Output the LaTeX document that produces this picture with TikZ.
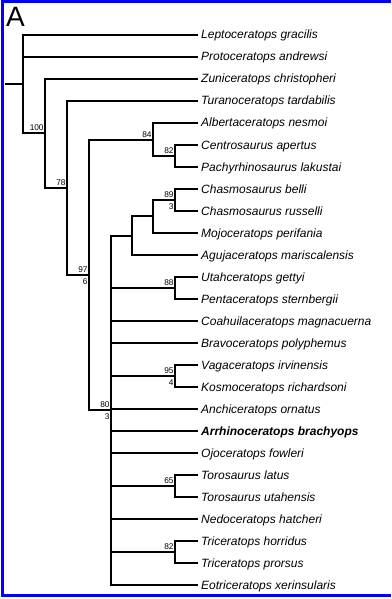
\documentclass[tikz,border=0pt]{standalone}
\usepackage{fontspec}
\setmainfont{Liberation Sans}
\usepackage{tikz}
\definecolor{frameblue}{RGB}{0,0,255}

\begin{document}
\begin{tikzpicture}[
        x=1pt, y=-1pt,
        taxon/.style = {anchor=west, inner xsep=3pt, inner ysep=0pt, text height=10pt, text depth=2pt, font=\fontsize{12}{12}\selectfont\itshape},
        supp/.style = {inner xsep=1.2pt, font=\fontsize{8.3}{8.3}\selectfont},
        suppabove/.style = {supp, anchor=south east, inner ysep=2pt},
        suppbelow/.style = {supp, anchor=north east, inner ysep=3.5pt},
        branch/.style = {draw=black, line width=2.2pt},
        frame/.style = {draw=frameblue, line width=3pt}
    ]
        \useasboundingbox (0,0) rectangle (391,599);

        % Rahmen und Buchstabe
        \draw[frame] (391,1.5) -| (2.8,595.8) -- (391,595.8);
        \node (panel) [anchor=north west, inner sep=0pt, font=\fontsize{28}{28}\selectfont] at (6,7) {A};

        % Taxa
        \node (lepto) [taxon] at (198,35) {Leptoceratops gracilis};
        \node (proto) [taxon] at (198,57) {Protoceratops andrewsi};
        \node (zuni) [taxon] at (198,79) {Zuniceratops christopheri};
        \node (turano) [taxon] at (198,101) {Turanoceratops tardabilis};
        \node (alberta) [taxon] at (198,123) {Albertaceratops nesmoi};
        \node (centro) [taxon] at (198,145) {Centrosaurus apertus};
        \node (pachy) [taxon] at (198,167) {Pachyrhinosaurus lakustai};
        \node (cbelli) [taxon] at (198,189) {Chasmosaurus belli};
        \node (crussel) [taxon] at (198,211) {Chasmosaurus russelli};
        \node (mojo) [taxon] at (198,233) {Mojoceratops perifania};
        \node (aguja) [taxon] at (198,255) {Agujaceratops mariscalensis};
        \node (utah) [taxon] at (198,277) {Utahceratops gettyi};
        \node (penta) [taxon] at (198,299) {Pentaceratops sternbergii};
        \node (coahuila) [taxon] at (198,321) {Coahuilaceratops magnacuerna};
        \node (bravo) [taxon] at (198,343) {Bravoceratops polyphemus};
        \node (vaga) [taxon] at (198,365) {Vagaceratops irvinensis};
        \node (kosmo) [taxon] at (198,387) {Kosmoceratops richardsoni};
        \node (anchi) [taxon] at (198,409) {Anchiceratops ornatus};
        \node (arrhino) [taxon, font=\fontsize{12}{12}\selectfont\bfseries\itshape] at (198,431) {Arrhinoceratops brachyops};
        \node (ojo) [taxon] at (198,453) {Ojoceratops fowleri};
        \node (tlatus) [taxon] at (198,475) {Torosaurus latus};
        \node (tutah) [taxon] at (198,497) {Torosaurus utahensis};
        \node (nedo) [taxon] at (198,519) {Nedoceratops hatcheri};
        \node (thorr) [taxon] at (198,541) {Triceratops horridus};
        \node (tpror) [taxon] at (198,563) {Triceratops prorsus};
        \node (eotri) [taxon] at (198,585) {Eotriceratops xerinsularis};

        % Knoten
        \coordinate (stub) at (5,84);
        \coordinate (root) at (23,84);
        \coordinate (n100) at (45,133);
        \coordinate (n78) at (67,188);
        \coordinate (n97) at (89,275);
        \coordinate (n84) at (153,140);
        \coordinate (n82a) at (175,156);
        \coordinate (n80) at (111,410);
        \coordinate (chasmo) at (132,236);
        \coordinate (chasmob) at (153,216);
        \coordinate (n89) at (175,200);
        \coordinate (n88) at (175,288);
        \coordinate (n95) at (175,376);
        \coordinate (n65) at (175,486);
        \coordinate (n82b) at (175,552);

        \draw[branch] (stub) -- (root);
        \draw[branch] (root) |- (lepto.west);
        \draw[branch] (root) |- (proto.west);
        \draw[branch] (root) |- (n100);
        \draw[branch] (n100) |- (zuni.west);
        \draw[branch] (n100) |- (n78);
        \draw[branch] (n78) |- (turano.west);
        \draw[branch] (n78) |- (n97);
        \draw[branch] (n97) |- (n84);
        \draw[branch] (n97) |- (n80);
        \draw[branch] (n84) |- (alberta.west);
        \draw[branch] (n84) |- (n82a);
        \draw[branch] (n82a) |- (centro.west);
        \draw[branch] (n82a) |- (pachy.west);

        \draw[branch] (n80) |- (chasmo);
        \draw[branch] (chasmo) |- (chasmob);
        \draw[branch] (chasmo) |- (aguja.west);
        \draw[branch] (chasmob) |- (n89);
        \draw[branch] (chasmob) |- (mojo.west);
        \draw[branch] (n89) |- (cbelli.west);
        \draw[branch] (n89) |- (crussel.west);
        \draw[branch] (n80) |- (n88);
        \draw[branch] (n88) |- (utah.west);
        \draw[branch] (n88) |- (penta.west);
        \draw[branch] (n80) |- (coahuila.west);
        \draw[branch] (n80) |- (bravo.west);
        \draw[branch] (n80) |- (n95);
        \draw[branch] (n95) |- (vaga.west);
        \draw[branch] (n95) |- (kosmo.west);
        \draw[branch] (n80) |- (anchi.west);
        \draw[branch] (n80) |- (arrhino.west);
        \draw[branch] (n80) |- (ojo.west);
        \draw[branch] (n80) |- (n65);
        \draw[branch] (n65) |- (tlatus.west);
        \draw[branch] (n65) |- (tutah.west);
        \draw[branch] (n80) |- (nedo.west);
        \draw[branch] (n80) |- (n82b);
        \draw[branch] (n82b) |- (thorr.west);
        \draw[branch] (n82b) |- (tpror.west);
        \draw[branch] (n80) |- (eotri.west);

        % Stuetzwerte
        \node (s100) [suppabove] at (n100) {100};
        \node (s78) [suppabove] at (n78) {78};
        \node (s97) [suppabove] at (n97) {97};
        \node (b97) [suppbelow] at (n97) {6};
        \node (s84) [suppabove] at (n84) {84};
        \node (s82a) [suppabove] at (n82a) {82};
        \node (s89) [suppabove] at (n89) {89};
        \node (b89) [suppbelow] at (n89) {3};
        \node (s88) [suppabove] at (n88) {88};
        \node (s95) [suppabove] at (n95) {95};
        \node (b95) [suppbelow] at (n95) {4};
        \node (s80) [suppabove] at (n80) {80};
        \node (b80) [suppbelow] at (n80) {3};
        \node (s65) [suppabove] at (n65) {65};
        \node (s82b) [suppabove] at (n82b) {82};

    \end{tikzpicture}
\end{document}
